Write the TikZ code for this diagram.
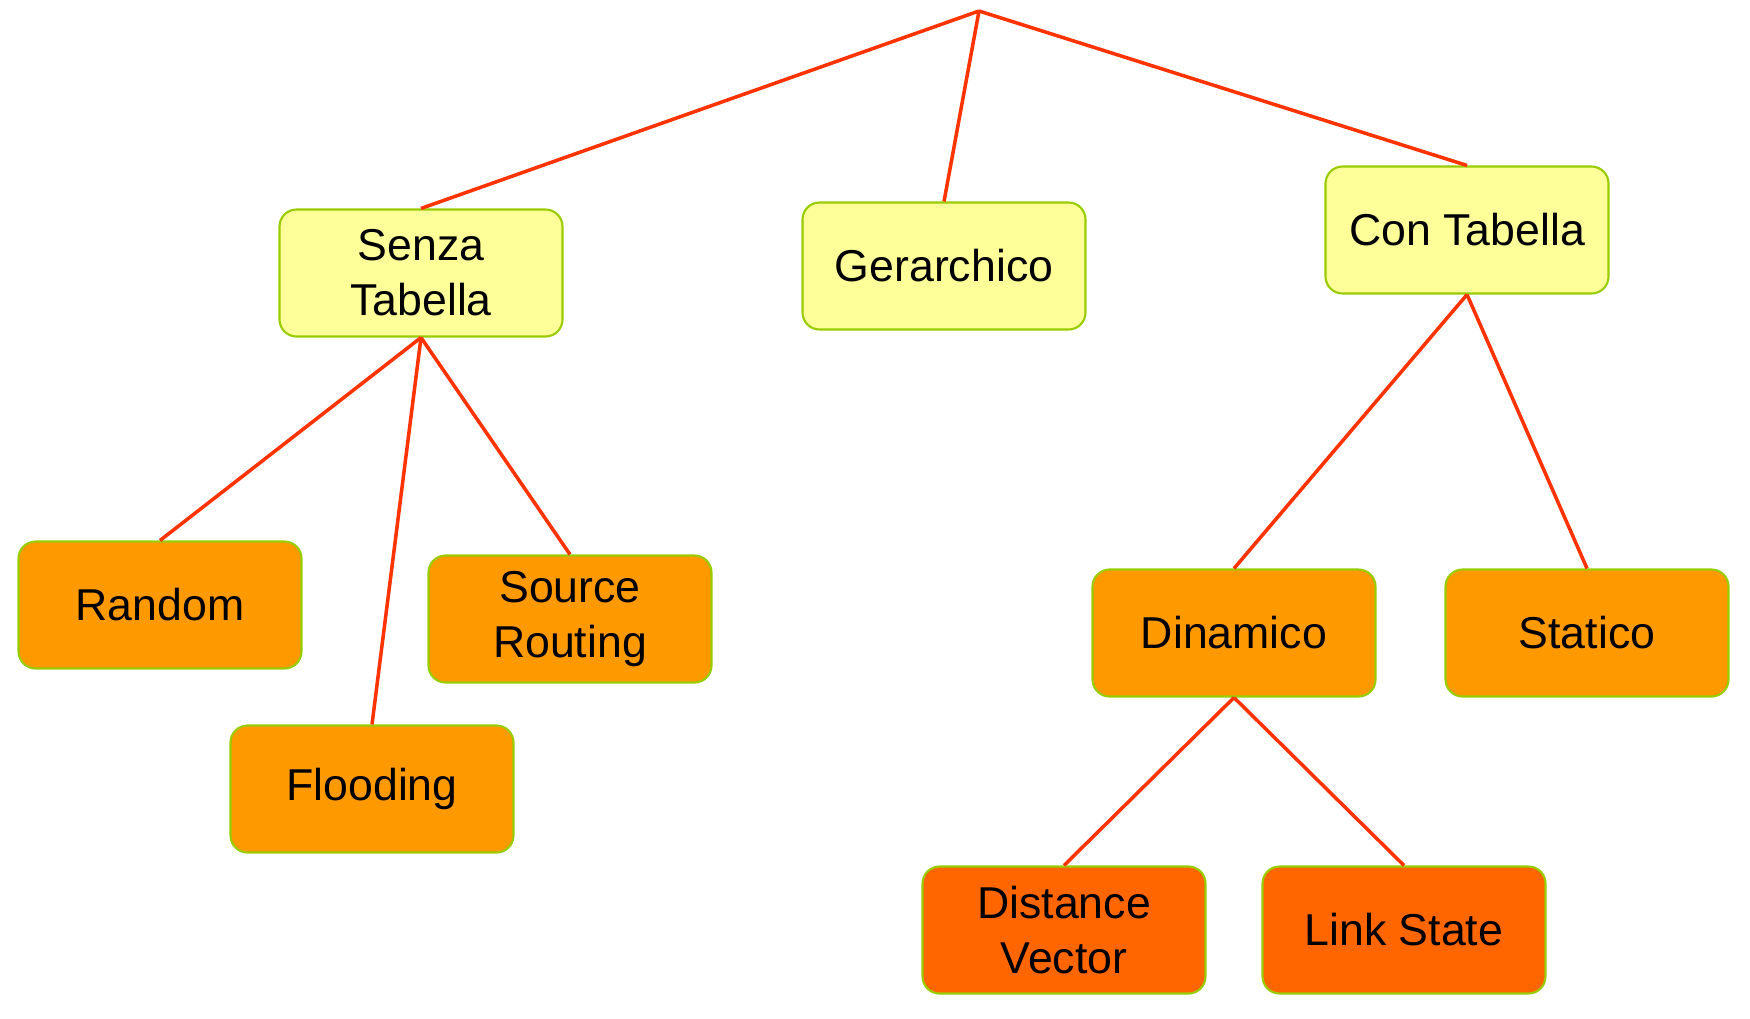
\documentclass[tikz,border=0pt]{standalone}
\usepackage{fontspec}
\setmainfont{Liberation Sans}
\usepackage{xcolor}
\usetikzlibrary{positioning}

\definecolor{paleyellow}{HTML}{FFFF99}
\definecolor{midorange}{HTML}{FF9900}
\definecolor{darkorange}{HTML}{FF6600}
\definecolor{boxborder}{HTML}{99CC00}
\definecolor{linkred}{HTML}{FF3300}

\begin{document}
\begin{tikzpicture}[
			every node/.style={draw=boxborder, line width=0.6pt, rectangle, rounded corners=0.17cm, align=center,
				minimum width=2.83cm, minimum height=1.27cm, inner sep=0pt,
				font=\fontsize{12.7}{15.6}\selectfont},
			level1/.style={fill=paleyellow},
			level2/.style={fill=midorange},
			level3/.style={fill=darkorange},
			link/.style={linkred, line width=1pt}
			]
			\useasboundingbox (0,0) rectangle (17.5,-10.18);
			
			% Nodes
			\coordinate (root) at (9.79,-0.11);
			\node (senza) [level1] at (4.21,-2.73) {Senza\\Tabella};
			\node (gerarchico) [level1] at (9.44,-2.66) {Gerarchico};
			\node (con) [level1] at (14.67,-2.30) {Con Tabella};
			\node (random) [level2] at (1.60,-6.05) {Random};
			\node (flooding) [level2] at (3.72,-7.89) {Flooding};
			\node (source) [level2] at (5.70,-6.19) {Source\\Routing};
			\node (dinamico) [level2] at (12.34,-6.33) {Dinamico};
			\node (statico) [level2] at (15.87,-6.33) {Statico};
			\node (distance) [level3] at (10.64,-9.30) {Distance\\Vector};
			\node (linkstate) [level3] at (14.04,-9.30) {Link State};
			
			% Connections
			\draw [link] (root) -- (senza.north);
			\draw [link] (root) -- (gerarchico.north);
			\draw [link] (root) -- (con.north);
			\draw [link] (senza.south) -- (random.north);
			\draw [link] (senza.south) -- (flooding.north);
			\draw [link] (senza.south) -- (source.north);
			\draw [link] (con.south) -- (dinamico.north);
			\draw [link] (con.south) -- (statico.north);
			\draw [link] (dinamico.south) -- (distance.north);
			\draw [link] (dinamico.south) -- (linkstate.north);
			
		\end{tikzpicture}
\end{document}
